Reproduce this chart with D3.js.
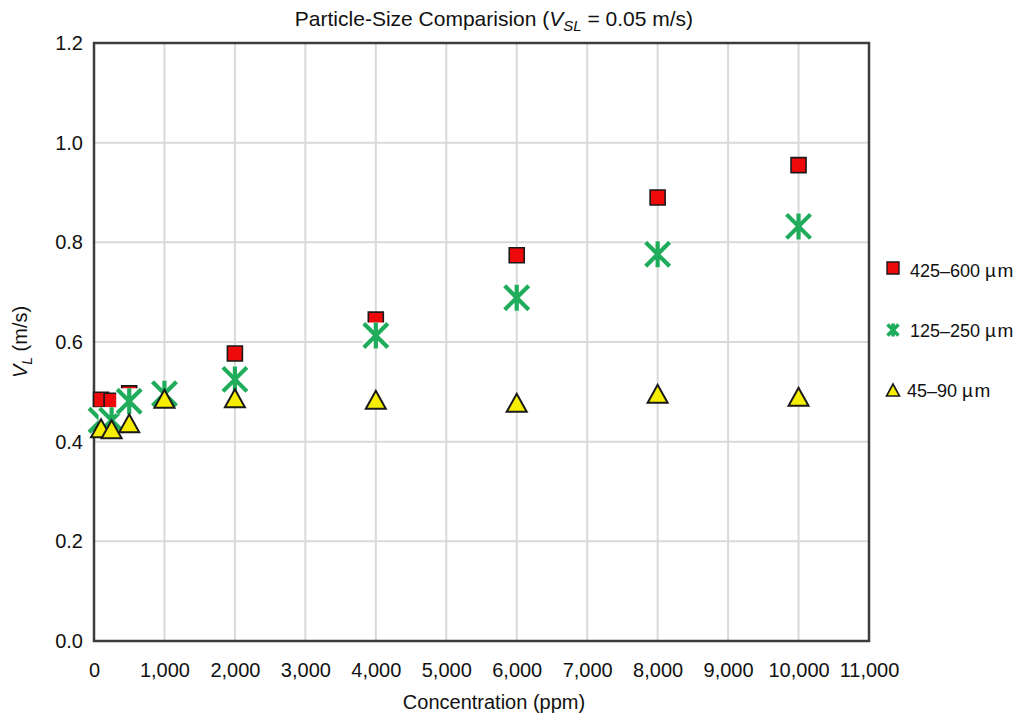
<!DOCTYPE html>
<html>
<head>
<meta charset="utf-8">
<script src="https://cdn.jsdelivr.net/npm/d3@7"></script>
<style>
  html, body { margin: 0; padding: 0; background: #fff; }
  svg { display: block; font-family: "Liberation Sans", Arial, Helvetica, sans-serif; }
</style>
</head>
<body>
<svg id="chart" width="1034" height="717"></svg>
<script>
// Concentration (ppm) and measured liquid velocity V_L (m/s) for each particle size
const concLarge = [100, 250, 500, 2000, 4000, 6000, 8000, 10000];
const vlLarge   = [0.484, 0.482, 0.497, 0.577, 0.645, 0.774, 0.890, 0.955];

const concMedium = [100, 250, 500, 1000, 2000, 4000, 6000, 8000, 10000];
const vlMedium   = [0.443, 0.443, 0.481, 0.496, 0.525, 0.613, 0.689, 0.776, 0.832];

const concSmall = [100, 250, 500, 1000, 2000, 4000, 6000, 8000, 10000];
const vlSmall   = [0.427, 0.425, 0.437, 0.486, 0.487, 0.484, 0.478, 0.496, 0.490];

const seriesSizes = ["425–600", "125–250", "45–90"];
const sizeUnit = "µm";
const xTicks = d3.range(0, 11001, 1000);
const yTicks = [0, 0.2, 0.4, 0.6, 0.8, 1.0, 1.2];

const svg = d3.select("#chart");
const W = 1034, H = 717;
svg.append("rect").attr("width", W).attr("height", H).attr("fill", "#fff");

const plot = { left: 94, right: 869, top: 43, bottom: 641 };
const x = d3.scaleLinear().domain([0, 11000]).range([plot.left, plot.right]);
const y = d3.scaleLinear().domain([0, 1.2]).range([plot.bottom, plot.top]);

// Gridlines
const grid = svg.append("g").attr("stroke", "#d9d9d9").attr("stroke-width", 2);
grid.selectAll("line.v").data(xTicks.filter(d => d > 0 && d < 11000)).join("line")
  .attr("x1", d => x(d)).attr("x2", d => x(d))
  .attr("y1", plot.top).attr("y2", plot.bottom);
grid.selectAll("line.h").data(yTicks.filter(d => d > 0 && d < 1.2)).join("line")
  .attr("x1", plot.left).attr("x2", plot.right)
  .attr("y1", d => y(d)).attr("y2", d => y(d));

// Axes (labels only, frame drawn separately)
const xAxis = svg.append("g")
  .attr("transform", `translate(0,${plot.bottom})`)
  .call(d3.axisBottom(x).tickValues(xTicks).tickFormat(d3.format(",")).tickSize(0).tickPadding(22));
const yAxis = svg.append("g")
  .attr("transform", `translate(${plot.left},0)`)
  .call(d3.axisLeft(y).tickValues(yTicks).tickFormat(d3.format(".1f")).tickSize(0).tickPadding(11));
[xAxis, yAxis].forEach(a => {
  a.select(".domain").remove();
  a.selectAll("text").attr("fill", "#111").attr("font-size", 20)
    .attr("font-family", "Liberation Sans, Arial, sans-serif");
});

// Plot frame
svg.append("rect")
  .attr("x", plot.left).attr("y", plot.top)
  .attr("width", plot.right - plot.left).attr("height", plot.bottom - plot.top)
  .attr("fill", "none").attr("stroke", "#3c3c3c").attr("stroke-width", 2.5);

// Marker shapes
const squarePath = s => `M${-s/2},${-s/2}H${s/2}V${s/2}H${-s/2}Z`;
const trianglePath = (w, h) => `M${-w/2},${h/2}L${w/2},${h/2}L0,${-h/2}Z`;
const starPath = r => `M${-r},${-r}L${r},${r}M${-r},${r}L${r},${-r}M0,${-r - 1}L0,${r + 1}`;

const RED = "#ee0a0a", GREEN = "#1fad5c", YELLOW = "#f6ee00";

function drawSquare(g, size, sw) {
  g.append("path").attr("d", squarePath(size))
    .attr("fill", RED).attr("stroke", "#1a1a1a").attr("stroke-width", sw);
}
function drawStar(g, r, sw, backing) {
  if (backing) {
    g.append("rect").attr("x", -r - 1).attr("y", -r - 1)
      .attr("width", 2 * r + 2).attr("height", 2 * r + 2).attr("fill", "#fff");
  }
  g.append("path").attr("d", starPath(r))
    .attr("fill", "none").attr("stroke", GREEN).attr("stroke-width", sw);
}
function drawTriangle(g, w, h, sw) {
  g.append("path").attr("d", trianglePath(w, h))
    .attr("fill", YELLOW).attr("stroke", "#1a1a1a").attr("stroke-width", sw)
    .attr("stroke-linejoin", "miter");
}

// Series points
const pts = (cs, vs) => cs.map((c, i) => ({ c, v: vs[i] }));

svg.append("g").selectAll("g").data(pts(concLarge, vlLarge)).join("g")
  .attr("transform", d => `translate(${x(d.c)},${y(d.v)})`)
  .each(function () { drawSquare(d3.select(this), 15, 1.6); });

svg.append("g").selectAll("g").data(pts(concMedium, vlMedium)).join("g")
  .attr("transform", d => `translate(${x(d.c)},${y(d.v)})`)
  .each(function () { drawStar(d3.select(this), 12, 4.2, true); });

svg.append("g").selectAll("g").data(pts(concSmall, vlSmall)).join("g")
  .attr("transform", d => `translate(${x(d.c)},${y(d.v)})`)
  .each(function () { drawTriangle(d3.select(this), 20, 18, 2); });

// Legend
const legend = svg.append("g").attr("font-size", 18).attr("fill", "#111");
const legendRows = [
  { name: seriesSizes[0], my: 268, ty: 277, tx: 910, draw: g => drawSquare(g, 12, 1.4) },
  { name: seriesSizes[1], my: 330, ty: 337, tx: 910, draw: g => drawStar(g, 5.5, 3.6, false) },
  { name: seriesSizes[2], my: 390, ty: 397, tx: 907, draw: g => drawTriangle(g, 13, 12, 1.6) }
];
legendRows.forEach(r => {
  const g = legend.append("g").attr("transform", `translate(893,${r.my})`);
  r.draw(g);
  const t = legend.append("text").attr("x", r.tx).attr("y", r.ty);
  t.append("tspan").text(r.name + " ");
  t.append("tspan").attr("letter-spacing", 1.5).attr("font-size", 19).text(sizeUnit);
});

// Title
const title = svg.append("text").attr("x", 494).attr("y", 26)
  .attr("text-anchor", "middle").attr("font-size", 21).attr("fill", "#111");
title.append("tspan").text("Particle-Size Comparision (");
title.append("tspan").attr("font-style", "italic").text("V");
title.append("tspan").attr("font-style", "italic").attr("font-size", 15).attr("dy", 5).text("SL");
title.append("tspan").attr("dy", -5).text(" = 0.05 m/s)");

// X-axis title
svg.append("text").attr("x", 494).attr("y", 709)
  .attr("text-anchor", "middle").attr("font-size", 20).attr("fill", "#111")
  .text("Concentration (ppm)");

// Y-axis title
const yt = svg.append("text")
  .attr("transform", "translate(27,342) rotate(-90)")
  .attr("text-anchor", "middle").attr("font-size", 20).attr("fill", "#111");
yt.append("tspan").attr("font-style", "italic").text("V");
yt.append("tspan").attr("font-style", "italic").attr("font-size", 14).attr("dy", 5).text("L");
yt.append("tspan").attr("dy", -5).text(" (m/s)");
</script>
</body>
</html>
